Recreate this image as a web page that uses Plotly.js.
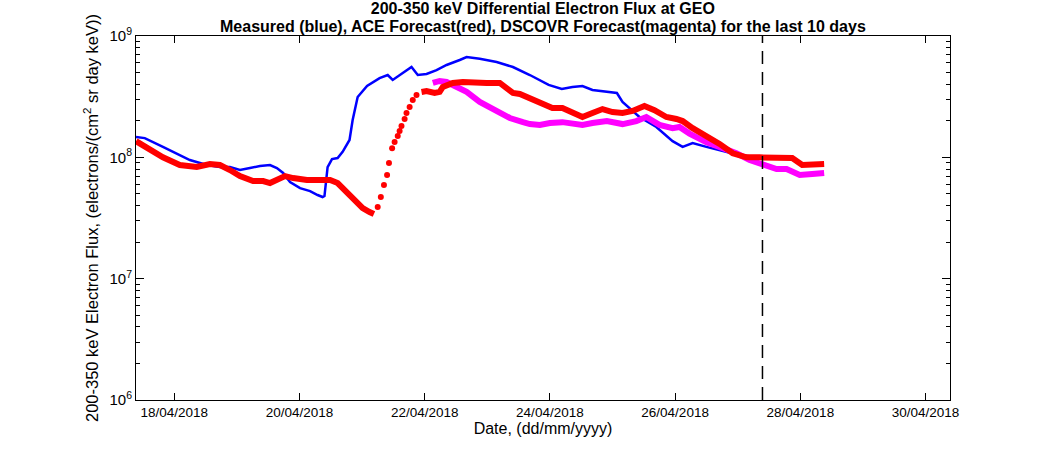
<!DOCTYPE html>
<html><head><meta charset="utf-8">
<script src="https://cdn.plot.ly/plotly-3.0.1.min.js"></script>
<style>body{margin:0;background:#fff}#chart{width:1050px;height:450px}</style>
</head><body><div id="chart"></div>
<script>
// Times are decimal day-of-month, April 2018
const blueDays = [17.39,17.53,17.82,18.04,18.25,18.52,18.73,18.89,19.05,19.21,19.37,19.53,19.64,19.74,19.85,20.01,20.17,20.29,20.37,20.40,20.45,20.52,20.61,20.69,20.80,20.85,20.93,21.08,21.28,21.41,21.49,21.65,21.79,21.89,22.03,22.19,22.35,22.56,22.67,22.88,23.15,23.41,23.68,23.98,24.19,24.36,24.52,24.68,24.79,25.07,25.16,25.43,25.70,25.96,26.12,26.28,26.50,26.76,27.03,27.35];
const blueFlux = [1.47e8,1.44e8,1.22e8,1.08e8,9.5e7,8.64e7,8.32e7,8.32e7,7.86e7,8.16e7,8.48e7,8.64e7,8.16e7,7.43e7,6.26e7,5.58e7,5.27e7,4.89e7,4.71e7,4.8e7,8.32e7,9.68e7,9.87e7,1.11e8,1.39e8,2.03e8,3.14e8,3.87e8,4.5e8,4.77e8,4.34e8,4.95e8,5.55e8,4.77e8,4.86e8,5.24e8,5.77e8,6.34e8,6.71e8,6.5e8,6.11e8,5.55e8,4.77e8,3.95e8,3.66e8,3.8e8,3.87e8,3.59e8,3.52e8,3.39e8,2.86e8,2.15e8,1.78e8,1.36e8,1.22e8,1.31e8,1.22e8,1.13e8,1.04e8,1.0e8];

const aceLineDays = [17.39,17.61,17.82,18.09,18.36,18.57,18.73,18.89,19.05,19.26,19.42,19.53,19.66,19.77,19.90,20.12,20.33,20.49,20.61,20.76,20.92,21.01,21.12,21.19,null,21.95,22.03,22.16,22.24,22.29,22.35,22.45,22.61,22.77,22.99,23.20,23.31,23.41,23.52,23.68,23.84,24.04,24.20,24.36,24.52,24.68,24.84,25.00,25.16,25.32,25.51,25.67,25.86,26.02,26.12,26.28,26.50,26.71,26.92,27.14,27.35,27.51,27.67,27.87,28.03,28.26,28.38];
const aceLineFlux = [1.36e8,1.15e8,1.0e8,8.64e7,8.32e7,8.8e7,8.64e7,7.86e7,7.01e7,6.38e7,6.38e7,6.14e7,6.62e7,7.01e7,6.75e7,6.5e7,6.5e7,6.5e7,6.14e7,5.08e7,4.2e7,3.82e7,3.54e7,3.41e7,null,3.46e8,3.52e8,3.39e8,3.46e8,3.8e8,3.95e8,4.1e8,4.18e8,4.1e8,4.1e8,4.1e8,3.73e8,3.39e8,3.33e8,3.08e8,2.8e8,2.55e8,2.55e8,2.32e8,2.15e8,2.32e8,2.5e8,2.36e8,2.32e8,2.41e8,2.65e8,2.45e8,2.15e8,2.07e8,1.99e8,1.74e8,1.5e8,1.29e8,1.08e8,1.0e8,1.0e8,1.0e8,9.87e7,9.87e7,8.64e7,8.8e7,8.8e7];

const aceDotDays = [21.25,21.30,21.35,21.40,21.43,21.48,21.52,21.57,21.60,21.63,21.68,21.71,21.76,21.81,21.87];
const aceDotFlux = [3.89e7,4.71e7,5.91e7,7.15e7,8.97e7,1.19e8,1.34e8,1.5e8,1.65e8,1.81e8,2.07e8,2.32e8,2.6e8,2.97e8,3.26e8];

const dscovrDays = [22.13,22.24,22.35,22.45,22.61,22.67,22.88,23.15,23.36,23.57,23.68,23.84,24.00,24.20,24.52,24.68,24.91,25.16,25.38,25.54,25.75,25.96,26.07,26.23,26.50,26.76,26.98,27.19,27.40,27.62,27.78,27.99,28.19,28.38];
const dscovrFlux = [4.1e8,4.26e8,4.18e8,3.95e8,3.66e8,3.46e8,2.86e8,2.45e8,2.11e8,1.95e8,1.88e8,1.85e8,1.92e8,1.95e8,1.85e8,1.92e8,1.99e8,1.88e8,1.99e8,2.15e8,1.85e8,1.74e8,1.78e8,1.57e8,1.33e8,1.19e8,1.08e8,9.5e7,8.8e7,8.01e7,8.01e7,7.15e7,7.29e7,7.43e7];

const nowDay = 27.395;
const rangeDays = [17.39, 30.39];
const yTickVals = [1e6,1e7,1e8,1e9];
const yTickText = ['10<sup>6</sup>','10<sup>7</sup>','10<sup>8</sup>','10<sup>9</sup>'];
const titleLine1 = '200-350 keV Differential Electron Flux at GEO';
const titleLine2 = 'Measured (blue), ACE Forecast(red), DSCOVR Forecast(magenta) for the last 10 days';

function toDate(d){
  if (d === null) return null;
  const ms = Date.UTC(2018,3,1) + (d-1)*864e5;
  return new Date(ms).toISOString().slice(0,19).replace('T',' ');
}
const D = a => a.map(toDate);

const font = 'Liberation Sans, Arial, Helvetica, sans-serif';
const traces = [
  {x:D(blueDays), y:blueFlux, mode:'lines', line:{color:'#0000ff', width:2.5}, hoverinfo:'skip'},
  {x:D(dscovrDays), y:dscovrFlux, mode:'lines', line:{color:'#ff00ff', width:6}, hoverinfo:'skip'},
  {x:D(aceLineDays), y:aceLineFlux, mode:'lines', connectgaps:false, line:{color:'#ff0000', width:6}, hoverinfo:'skip'},
  {x:D(aceDotDays), y:aceDotFlux, mode:'markers', marker:{color:'#ff0000', size:6}, hoverinfo:'skip'}
];

const layout = {
  width:1050, height:450,
  margin:{l:136, r:100, t:36, b:50},
  paper_bgcolor:'#fff', plot_bgcolor:'#fff',
  showlegend:false,
  font:{family:font, color:'#000', size:13},
  title:{text:'<b>'+titleLine1+'</b>', x:0.517, xanchor:'center', y:0.968, yanchor:'bottom', font:{size:16, family:font}},
  annotations:[{text:'<b>'+titleLine2+'</b>', xref:'paper', yref:'paper', x:0.5, xanchor:'center',
                y:1.001, yanchor:'bottom', showarrow:false, font:{size:16, family:font}, borderpad:0}],
  xaxis:{type:'date', range:D(rangeDays), tick0:'2018-04-18', dtick:2*864e5, tickformat:'%d/%m/%Y',
         ticks:'inside', ticklen:7, tickcolor:'#000', showline:true, linecolor:'#000', linewidth:1, mirror:'ticks',
         showgrid:false, zeroline:false, tickfont:{size:13.5},
         title:{text:'Date, (dd/mm/yyyy)', font:{size:16}, standoff:0}},
  yaxis:{type:'log', range:[6,9], tickvals:yTickVals, ticktext:yTickText,
         ticks:'inside', ticklen:8, tickcolor:'#000', showline:true, linecolor:'#000', linewidth:1, mirror:'ticks',
         showgrid:false, zeroline:false, tickfont:{size:15},
         minor:{ticks:'inside', ticklen:4, dtick:'D1', tickcolor:'#000', showgrid:false},
         title:{text:'200-350 keV Electron Flux, (electrons/(cm<sup>2</sup> sr day keV))', font:{size:16.5}, standoff:6}},
  shapes:[{type:'line', xref:'x', yref:'paper', x0:toDate(nowDay), x1:toDate(nowDay), y0:0, y1:1,
           line:{color:'#000', width:1.5, dash:'13px,8px'}}]
};
Plotly.newPlot('chart', traces, layout, {staticPlot:true});
</script></body></html>
